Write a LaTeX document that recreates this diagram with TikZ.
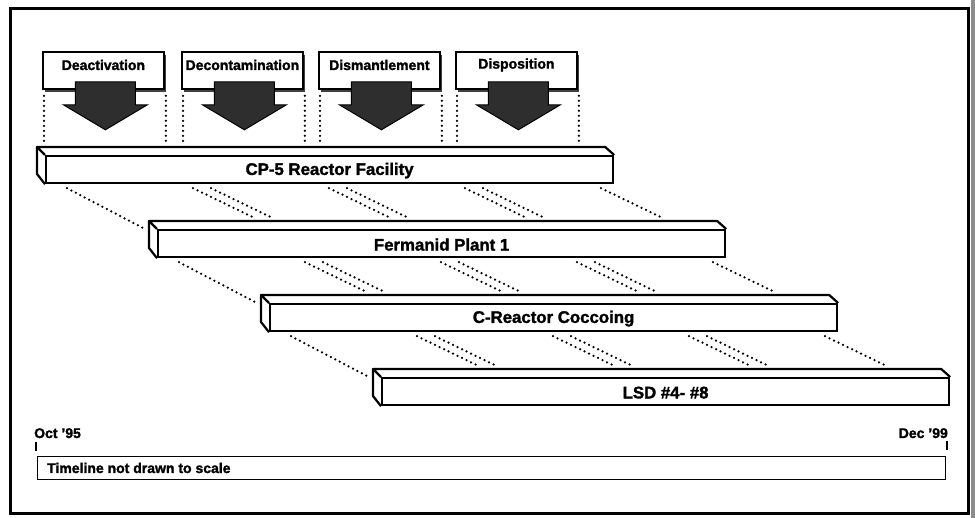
\documentclass[tikz,border=0pt]{standalone}
\usepackage{fontspec}
\setmainfont{Liberation Sans}[BoldFeatures={FakeBold=1.6}]
\usetikzlibrary{calc}
\tikzset{
  frameline/.style={line width=3pt},
  phasebox/.style={draw, line width=1.8pt, fill=white, minimum width=121pt, minimum height=37pt, inner sep=0pt, anchor=north west},
  phaseshadow/.style={fill=black!75},
  phaselabel/.style={font=\bfseries\fontsize{14}{16}\selectfont, inner sep=0pt},
  bigarrow/.style={fill=black!82, draw=black, line width=1pt},
  guide/.style={line width=2.5pt, line cap=round, dash pattern=on 0pt off 5pt},
  barface/.style={draw, line width=2.2pt, fill=white, minimum width=567pt, minimum height=27pt, inner sep=0pt, anchor=north west},
  barline/.style={line width=2.2pt, line join=round},
  barlabel/.style={font=\bfseries\fontsize{16.8}{18}\selectfont, inner sep=0pt},
  timelabel/.style={font=\bfseries\fontsize{14}{16}\selectfont, inner sep=0pt},
  tick/.style={line width=2.8pt}
}
\begin{document}
\begin{tikzpicture}[x=1pt,y=-1pt]
\useasboundingbox (0,0) rectangle (975,518);
\fill[white] (0,0) rectangle (975,518);
% right scan strip
\fill[black!45] (971,0) rectangle (975,518);
% frame
\draw[frameline] (10,9) rectangle (968,513);

% phase boxes
\foreach \nm/\x/\txt in {deact/42/Deactivation, decon/181/Decontamination, disman/318/Dismantlement, dispo/455/Disposition}{
  \fill[phaseshadow] (\x+3,55) rectangle (\x+124,92);
  \node[phasebox] (\nm) at (\x,51) {};
  \node[phaselabel] (\nm L) at ($(\nm.north)+(0,14)$) {\txt};
  \draw[bigarrow] ($(\nm.south)+(-28,-8)$) -- ($(\nm.south)+(32,-8)$) -- ($(\nm.south)+(32,15)$)
     -- ($(\nm.south)+(44,15)$) -- ($(\nm.south)+(2,40)$) -- ($(\nm.south)+(-40,15)$)
     -- ($(\nm.south)+(-28,15)$) -- cycle;
  \draw[guide] ($(\nm.south west)+(2,6)$) -- ($(\nm.south west)+(2,52)$);
  \draw[guide] ($(\nm.south east)+(1,6)$) -- ($(\nm.south east)+(1,52)$);
}

% bars
\foreach \nm/\x/\y/\txt in {cp/45/155/CP-5 Reactor Facility, fer/157/229/Fermanid Plant 1, crx/269/303/C-Reactor Coccoing, lsd/381/377/LSD \#4- \#8}{
  \node[barface] (\nm) at (\x,\y) {};
  \node[barlabel] (\nm L) at ($(\nm.center)+(0,1)$) {\txt};
  \draw[barline] (\nm.north west) -- ++(-8,-8) -- ($(\nm.north east)+(-9,-8)$) -- (\nm.north east);
  \draw[barline] ($(\nm.north west)+(-8,-8)$) -- ++(0,27) -- (\nm.south west);
}

% guide lines between bars
\foreach \a/\b in {cp/fer, fer/crx, crx/lsd}{
  \draw[guide] ($(\a.south west)+(22,4)$) -- ($(\b.north west)+(-14,-1)$);
  \foreach \off in {148,166,284,302,420,438,556}{
    \draw[guide] ($(\a.south west)+(\off,4)$) -- ++(60,29);
  }
}

% timeline
\node[timelabel, anchor=base west] (oct) at (34,438) {Oct ’95};
\node[timelabel, anchor=base east] (dec) at (948,438) {Dec ’99};
\coordinate (octA) at (36,442);
\coordinate (octB) at (36,451);
\coordinate (decA) at (947,441);
\coordinate (decB) at (947,450);
\draw[tick] (octA) -- (octB);
\draw[tick] (decA) -- (decB);
\node[draw, line width=1.4pt, minimum width=908pt, minimum height=23pt, inner sep=0pt, anchor=north west] (tbox) at (37,456) {};
\node[font=\bfseries\fontsize{14}{16}\selectfont, inner sep=0pt, anchor=base west] (tnote) at (47,473) {Timeline not drawn to scale};
\end{tikzpicture}
\end{document}
